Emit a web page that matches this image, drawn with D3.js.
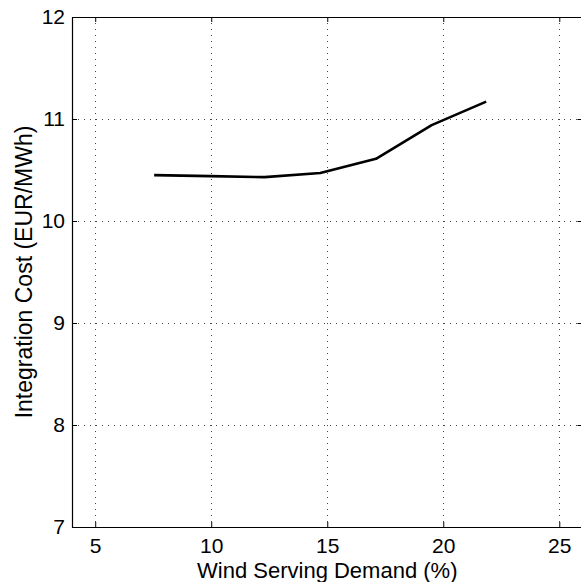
<!DOCTYPE html>
<html>
<head>
<meta charset="utf-8">
<script src="https://cdn.jsdelivr.net/npm/d3@7"></script>
<style>
  body { margin: 0; background: #fff; }
  svg { display: block; }
  text { font-family: "Liberation Sans", Arial, Helvetica, sans-serif; fill: #000; }
</style>
</head>
<body>
<div class="chart"></div>
<script>
// data
var windShare = [7.54, 9.95, 12.3, 14.7, 17.1, 19.5, 21.85];
var integrationCost = [10.45, 10.44, 10.43, 10.47, 10.61, 10.94, 11.17];
var xTicks = [5, 10, 15, 20, 25];
var yTicks = [7, 8, 9, 10, 11, 12];

var svgWidth = 581;
var svgHeight = 582;

var margin = { top: 17, left: 72 };
// plot spans 4..26 on x, right edge falls just outside the window
var width = 510.5;
var height = 510;

var svg = d3.select(".chart")
  .append("svg")
  .attr("width", svgWidth)
  .attr("height", svgHeight)
  .style("overflow", "hidden");

var chart = svg.append("g")
  .attr("transform", "translate(" + margin.left + "," + margin.top + ")");

var x = d3.scaleLinear().domain([4, 26]).range([0, width]);
var y = d3.scaleLinear().domain([7, 12]).range([height, 0]);

// dotted grid
chart.append("g")
  .selectAll("line")
  .data(xTicks)
  .enter()
  .append("line")
  .attr("x1", function(d) { return Math.round(x(d)) + 0.5; })
  .attr("x2", function(d) { return Math.round(x(d)) + 0.5; })
  .attr("y1", 0)
  .attr("y2", height)
  .attr("stroke", "#444")
  .attr("stroke-width", 1)
  .attr("stroke-dasharray", "1,5");

chart.append("g")
  .selectAll("line")
  .data(yTicks.slice(1, -1))
  .enter()
  .append("line")
  .attr("x1", 0)
  .attr("x2", width)
  .attr("y1", function(d) { return Math.round(y(d)) + 0.5; })
  .attr("y2", function(d) { return Math.round(y(d)) + 0.5; })
  .attr("stroke", "#444")
  .attr("stroke-width", 1)
  .attr("stroke-dasharray", "1,5");

// axes, ticks pointing inward on all four sides
var bottomAxis = d3.axisBottom(x).tickValues(xTicks).tickSizeInner(-5).tickSizeOuter(0).tickPadding(11).tickFormat(d3.format("d"));
var topAxis = d3.axisTop(x).tickValues(xTicks).tickSizeInner(-5).tickSizeOuter(0).tickFormat("");
var leftAxis = d3.axisLeft(y).tickValues(yTicks).tickSizeInner(-5).tickSizeOuter(0).tickPadding(7).tickFormat(d3.format("d"));
var rightAxis = d3.axisRight(y).tickValues(yTicks).tickSizeInner(-5).tickSizeOuter(0).tickFormat("");

chart.append("g").attr("class", "axis").attr("transform", "translate(0," + height + ")").call(bottomAxis);
chart.append("g").attr("class", "axis").call(topAxis);
chart.append("g").attr("class", "axis").call(leftAxis);
chart.append("g").attr("class", "axis").attr("transform", "translate(" + width + ",0)").call(rightAxis);

chart.selectAll(".axis").attr("font-size", null).attr("font-family", null);
chart.selectAll(".axis path").attr("stroke", "#000").attr("stroke-width", 1.2);
chart.selectAll(".axis line").attr("stroke", "#000");
chart.selectAll(".axis text")
  .style("font-size", "21px")
  .attr("fill", "#000");

// the line
var line = d3.line()
  .x(function(d, i) { return x(windShare[i]); })
  .y(function(d) { return y(d); });

chart.append("path")
  .datum(integrationCost)
  .attr("d", line)
  .attr("fill", "none")
  .attr("stroke", "#000")
  .attr("stroke-width", 2.6)
  .attr("stroke-linejoin", "round");

// axis labels
chart.append("text")
  .attr("x", (x(4) + x(26)) / 2)
  .attr("y", height + 51)
  .attr("text-anchor", "middle")
  .style("font-size", "22px")
  .text("Wind Serving Demand (%)");

chart.append("text")
  .attr("transform", "rotate(-90)")
  .attr("x", -height / 2)
  .attr("y", -40)
  .attr("text-anchor", "middle")
  .style("font-size", "23px")
  .text("Integration Cost (EUR/MWh)");
</script>
</body>
</html>
